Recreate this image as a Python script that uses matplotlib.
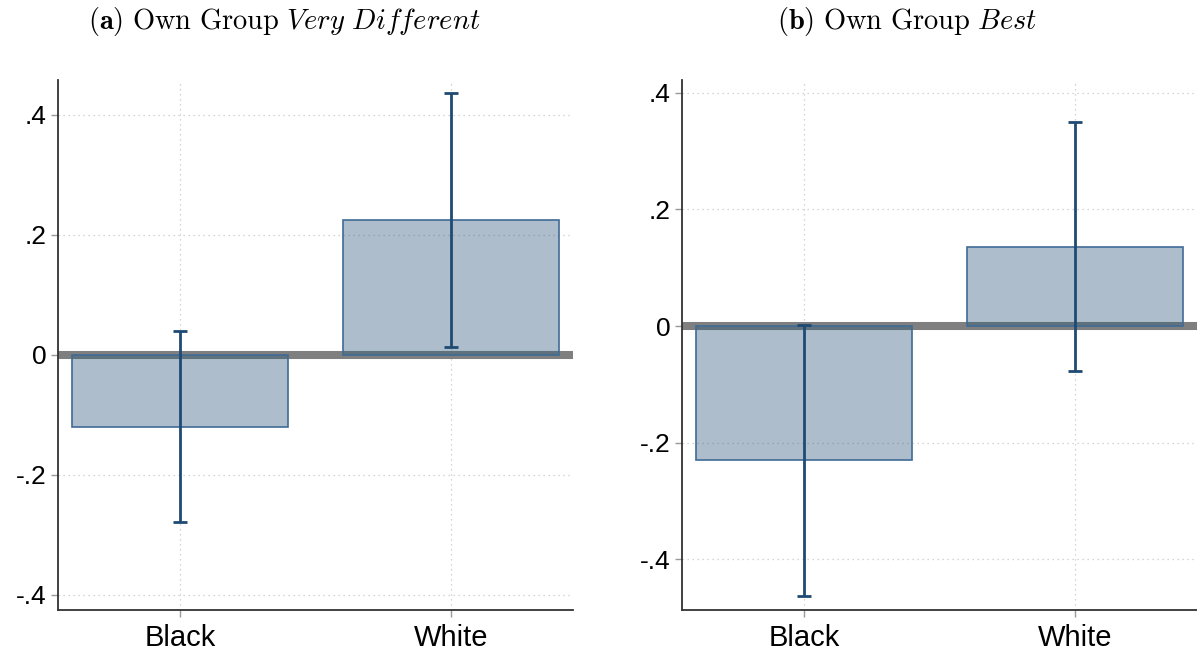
import numpy as np
import matplotlib
matplotlib.use("Agg")
import matplotlib.pyplot as plt

plt.rcParams["font.family"] = ["Liberation Sans", "DejaVu Sans"]
plt.rcParams["mathtext.fontset"] = "cm"

# data
groups = ["Black", "White"]
est_a = [-0.12, 0.225]
lo_a = [-0.278, 0.013]
hi_a = [0.040, 0.437]
est_b = [-0.23, 0.135]
lo_b = [-0.463, -0.077]
hi_b = [0.002, 0.350]
yticks = [-0.4, -0.2, 0.0, 0.2, 0.4]
ytick_labels = ["-.4", "-.2", "0", ".2", ".4"]

BAR_FACE = (0.196, 0.361, 0.49, 0.4)
BAR_EDGE = "#3f6b95"
CI_COLOR = "#1f4a74"


def panel(ax, est, lo, hi, ylim):
    x = np.arange(len(groups))
    ax.axhline(0, color="#7f7f7f", lw=5.8, zorder=1)
    ax.bar(x, est, width=0.8, color=BAR_FACE, edgecolor=BAR_EDGE, lw=1.2, zorder=2)
    est = np.array(est)
    err = [est - np.array(lo), np.array(hi) - est]
    ax.errorbar(x, est, yerr=err, fmt="none", ecolor=CI_COLOR, elinewidth=2.0,
                capsize=5, capthick=2.0, zorder=3)
    ax.set_xlim(-0.45, 1.45)
    ax.set_ylim(*ylim)
    ax.set_xticks(x)
    ax.set_xticklabels(groups, fontsize=21)
    ax.set_yticks(yticks)
    ax.set_yticklabels(ytick_labels, fontsize=19)
    ax.grid(True, ls=(0, (1, 3)), color="#c8c8c8", lw=0.9, zorder=0)
    ax.set_axisbelow(True)
    for s in ("top", "right"):
        ax.spines[s].set_visible(False)
    for s in ("left", "bottom"):
        ax.spines[s].set_color("#333333")
        ax.spines[s].set_linewidth(1.3)
    ax.tick_params(axis="both", direction="out", length=5, width=1, color="#999999")
    ax.tick_params(axis="x", pad=5)
    ax.tick_params(axis="y", pad=3)


fig = plt.figure(figsize=(11.97, 6.54), dpi=100)
ax1 = fig.add_axes([58 / 1197, 1 - 610 / 654, 515 / 1197, 530 / 654])
ax2 = fig.add_axes([682 / 1197, 1 - 610 / 654, 515 / 1197, 530 / 654])

panel(ax1, est_a, lo_a, hi_a, (-0.425, 0.458))
panel(ax2, est_b, lo_b, hi_b, (-0.487, 0.422))

fig.text(284 / 1197, 1 - 22 / 654,
         r"$\mathbf{(a)}\ \mathrm{Own\ Group}\ \mathit{Very\ Different}$",
         ha="center", va="center", fontsize=20.5)
fig.text(907 / 1197, 1 - 22 / 654,
         r"$\mathbf{(b)}\ \mathrm{Own\ Group}\ \mathit{Best}$",
         ha="center", va="center", fontsize=20.5)

fig.savefig("out.png", dpi=100)
